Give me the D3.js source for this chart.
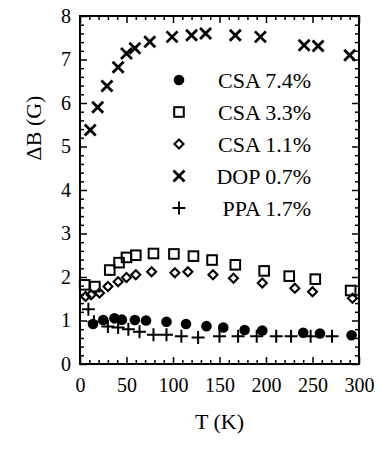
<!DOCTYPE html>
<html><head><meta charset="utf-8">
<script src="https://cdn.jsdelivr.net/npm/d3@7"></script>
<style>body{margin:0;background:#fff}svg{display:block}svg text{font-family:"Liberation Serif","Times New Roman",serif !important;fill:#000}</style>
</head><body><div id="chart"></div>
<script>
const csa74T = [14, 25, 37, 45, 59, 71, 93, 114, 136, 154, 177, 196, 240, 258, 292];
const csa74V = [0.92, 1.01, 1.05, 1.02, 1.01, 1.0, 0.97, 0.92, 0.87, 0.84, 0.78, 0.77, 0.72, 0.7, 0.66];
const csa33T = [5, 16, 32, 42, 50, 60, 79, 101, 122, 142, 167, 198, 225, 253, 291];
const csa33V = [1.82, 1.78, 2.16, 2.33, 2.45, 2.5, 2.54, 2.53, 2.48, 2.39, 2.28, 2.14, 2.02, 1.95, 1.69];
const csa11T = [6, 12, 21, 30, 41, 50, 60, 77, 102, 116, 143, 165, 196, 231, 250, 293];
const csa11V = [1.55, 1.59, 1.63, 1.78, 1.89, 1.99, 2.05, 2.12, 2.1, 2.12, 2.05, 1.97, 1.86, 1.74, 1.66, 1.51];
const dopT = [11, 19, 29, 41, 50, 59, 75, 99, 120, 135, 167, 194, 241, 256, 290];
const dopV = [5.38, 5.9, 6.39, 6.82, 7.14, 7.26, 7.41, 7.52, 7.56, 7.6, 7.56, 7.52, 7.33, 7.31, 7.1];
const ppaT = [9, 15, 30, 41, 52, 64, 79, 93, 109, 127, 150, 170, 190, 211, 227, 248, 271];
const ppaV = [1.26, 0.97, 0.86, 0.84, 0.8, 0.74, 0.67, 0.67, 0.64, 0.61, 0.64, 0.64, 0.64, 0.64, 0.64, 0.64, 0.64];
const seriesNames = ["CSA 7.4%", "CSA 3.3%", "CSA 1.1%", "DOP 0.7%", "PPA 1.7%"];
const xTicks = [0, 50, 100, 150, 200, 250, 300];
const yTicks = [0, 1, 2, 3, 4, 5, 6, 7, 8];
const xLabel = "T (K)";
const yLabel = "ΔB (G)";

const W = 380, H = 449;
const m = {l: 80, r: 21, t: 16, b: 85};
const FONT = '"Liberation Serif","Times New Roman",serif';
const svg = d3.select("#chart").append("svg").attr("width", W).attr("height", H);
const x = d3.scaleLinear().domain([0, 300]).range([m.l, W - m.r]);
const y = d3.scaleLinear().domain([0, 8]).range([H - m.b, m.t]);

const series = [
  {T: csa74T, V: csa74V, type: "circle"},
  {T: csa33T, V: csa33V, type: "square"},
  {T: csa11T, V: csa11V, type: "diamond"},
  {T: dopT, V: dopV, type: "cross"},
  {T: ppaT, V: ppaV, type: "plus"}
];

function marker(g, type) {
  if (type === "circle") g.append("circle").attr("r", 5.3).attr("fill", "#000");
  else if (type === "square") g.append("rect").attr("x", -4.8).attr("y", -4.8).attr("width", 9.6).attr("height", 9.6)
    .attr("fill", "none").attr("stroke", "#000").attr("stroke-width", 2);
  else if (type === "diamond") g.append("path").attr("d", "M0,-4.5L4.5,0L0,4.5L-4.5,0Z")
    .attr("fill", "none").attr("stroke", "#000").attr("stroke-width", 2.1);
  else if (type === "cross") g.append("path").attr("d", "M-5.5,-5.5L5.5,5.5M-5.5,5.5L5.5,-5.5")
    .attr("stroke", "#000").attr("stroke-width", 2.8);
  else if (type === "plus") g.append("path").attr("d", "M-6.5,0L6.5,0M0,-6.5L0,6.5")
    .attr("stroke", "#000").attr("stroke-width", 2);
}

const plot = svg.append("g");
series.forEach(s => {
  s.T.forEach((t, i) => {
    const g = plot.append("g").attr("transform", `translate(${x(t)},${y(s.V[i])})`);
    marker(g, s.type);
  });
});

const xMinor = d3.range(0, 301, 10).filter(v => v % 50 !== 0);
const yMinor = d3.range(0, 8.01, 0.2).map(v => +v.toFixed(1)).filter(v => Math.abs(v - Math.round(v)) > 1e-6);
function addAxis(axisGen, tr) {
  const g = svg.append("g").attr("transform", tr).call(axisGen);
  g.attr("font-family", FONT);
  g.select(".domain").remove();
  g.selectAll("line").attr("stroke", "#000").attr("stroke-width", 1.5);
  g.selectAll("text").attr("fill", "#000").style("font-family", FONT).style("font-size", "20px");
  return g;
}
addAxis(d3.axisBottom(x).tickValues(xTicks).tickSize(-7).tickFormat(d3.format("d")).tickPadding(14), `translate(0,${y(0)})`);
addAxis(d3.axisBottom(x).tickValues(xMinor).tickSize(-4).tickFormat(""), `translate(0,${y(0)})`);
addAxis(d3.axisTop(x).tickValues(xTicks).tickSize(-7).tickFormat(""), `translate(0,${y(8)})`);
addAxis(d3.axisTop(x).tickValues(xMinor).tickSize(-4).tickFormat(""), `translate(0,${y(8)})`);
addAxis(d3.axisLeft(y).tickValues(yTicks).tickSize(-7).tickFormat(d3.format("d")).tickPadding(9), `translate(${x(0)},0)`);
addAxis(d3.axisLeft(y).tickValues(yMinor).tickSize(-4).tickFormat(""), `translate(${x(0)},0)`);
addAxis(d3.axisRight(y).tickValues(yTicks).tickSize(-7).tickFormat(""), `translate(${x(300)},0)`);
addAxis(d3.axisRight(y).tickValues(yMinor).tickSize(-4).tickFormat(""), `translate(${x(300)},0)`);

svg.append("rect").attr("x", x(0)).attr("y", y(8)).attr("width", x(300) - x(0)).attr("height", y(0) - y(8))
  .attr("fill", "none").attr("stroke", "#000").attr("stroke-width", 2);

// legend
const lg = svg.append("g");
seriesNames.forEach((name, i) => {
  const yy = 80 + i * 32;
  const g = lg.append("g").attr("transform", `translate(179,${yy})`);
  marker(g, series[i].type);
  lg.append("text").attr("x", 311).attr("y", yy).attr("dy", "0.35em").attr("text-anchor", "end")
    .style("font-family", FONT).style("font-size", "22px").text(name);
});

svg.append("text").attr("x", (x(0) + x(300)) / 2).attr("y", 421).attr("dy", "0.35em").attr("text-anchor", "middle")
  .style("font-family", FONT).style("font-size", "22px").text(xLabel);
svg.append("text").attr("transform", `translate(33,128) rotate(-90)`).attr("dy", "0.35em")
  .attr("text-anchor", "middle").style("font-family", FONT).style("font-size", "22px").text(yLabel);
</script></body></html>
